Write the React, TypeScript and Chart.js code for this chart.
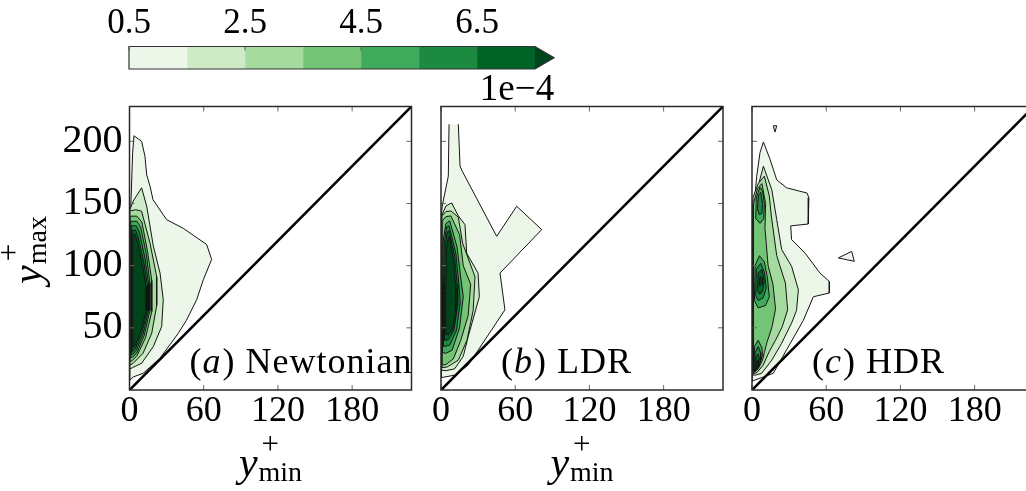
import { useEffect, useRef } from 'react';
import { Chart, registerables } from 'chart.js';

Chart.register(...registerables);

type Pt = [number, number];
interface Ring {
  level: number;
  pts: Pt[];
  open?: boolean;
}

// contour levels (x1e-4) and the Greens band colours; the last colour is the >7.5 extension
const LEVELS = [0.5, 1.5, 2.5, 3.5, 4.5, 5.5, 6.5, 7.5];
const BAND_COLORS = ['#edf7e9', '#cdebc7', '#a6dba0', '#74c476', '#3fa95c', '#1d8a42', '#006428', '#00441b'];
const CBAR_TICKS = [0.5, 2.5, 4.5, 6.5];
const CBAR_EXTEND = 0.33;
const X_TICKS = [0, 60, 120, 180];
const Y_TICKS = [50, 100, 150, 200];
const AXIS_MAX = 228;
const DIAGONAL: Pt[] = [[0, 0], [AXIS_MAX, AXIS_MAX]];

// joint PDF contours, (y+_min, y+_max) outlines per level
const NEWTONIAN: Ring[] = [
  { level: 0.5, pts: [[0.3, 8], [0.3, 130], [1.5, 160], [2.5, 190], [3.6, 204.5], [9.8, 200], [12.5, 188], [13.9, 173], [16.6, 164], [19, 153], [30, 137], [43.5, 130], [62.4, 117], [66.4, 105], [59.7, 88.7], [54.3, 72.6], [46, 56], [39.5, 45.7], [24.7, 25.6], [11, 13.4], [3, 10.5]] },
  { level: 1.5, pts: [[0.3, 17], [0.3, 145], [3, 152], [9.8, 162.6], [13.9, 147.8], [19.3, 115.6], [24.7, 94], [27.3, 72.6], [26, 51], [19.3, 35], [9.8, 21.5], [2.5, 18]] },
  { level: 2.5, pts: [[0.3, 20], [0.3, 144], [5, 145], [9.8, 143.8], [16.6, 118], [22, 91], [22, 68], [18, 45.7], [11, 29.6], [3, 21.5]] },
  { level: 3.5, pts: [[0.5, 23], [0.5, 139.8], [6, 139.8], [10, 135], [14.5, 112], [18, 88], [18, 63], [13, 42], [6, 27.5], [2, 23.5]] },
  { level: 4.5, pts: [[1, 26], [1, 135.7], [6, 135.7], [9, 131], [13.5, 110], [16.5, 86], [16.5, 64], [12, 44], [6, 30], [2.5, 26.5]] },
  { level: 5.5, pts: [[1.5, 28.5], [1.5, 132], [5.5, 132], [8, 127], [12.5, 106], [15.5, 85], [15.5, 64], [11, 45], [5.5, 32], [3, 29]] },
  { level: 6.5, pts: [[2, 31], [2, 128.5], [5, 128.5], [7, 123], [11.5, 103], [14.5, 84], [14.5, 64], [10, 46], [5, 34], [3, 31.5]] },
  { level: 7.5, pts: [[2.5, 34], [2.5, 125], [4.5, 125], [6.5, 119], [10.5, 100], [13.5, 83], [13.5, 64], [9, 47], [4.5, 36]] },
];

const LDR: Ring[] = [
  { level: 0.5, open: true, pts: [[6.5, 213.7], [5.9, 172], [1, 148], [0.3, 140], [0.3, 10], [3.2, 10.5], [11.3, 12], [22, 20], [51.7, 64.5], [47.7, 94], [81.4, 129], [61.2, 147.8], [45, 123.6], [17.2, 176], [15.4, 180], [14, 213.7]] },
  { level: 1.5, pts: [[0.5, 16], [0.5, 140], [4, 148], [8.6, 150.5], [14, 140], [19.4, 133], [20.8, 110], [30, 94], [31, 75], [22, 43], [18, 27], [11, 17], [4, 15.5]] },
  { level: 2.5, pts: [[0.8, 18], [0.8, 140], [4, 143.5], [8, 144], [14, 139], [17.5, 118], [27.5, 91], [26, 64], [21, 40], [14, 24], [5, 18.5]] },
  { level: 3.5, pts: [[1, 20], [1, 136], [4, 139.5], [8, 140], [15, 125], [18, 100], [24, 85], [22, 60], [16, 40], [10, 25], [4, 20.5]] },
  { level: 4.5, pts: [[1.5, 30], [1.2, 80], [1.8, 120], [4, 134], [7, 136], [13, 115], [16, 90], [18, 75], [15, 50], [9, 32], [4, 29.5]] },
  { level: 5.5, pts: [[2.2, 35], [2, 80], [2.6, 118], [4.5, 131], [6.5, 132], [12, 110], [14.5, 85], [15.5, 70], [12.5, 48], [7, 36]] },
  { level: 6.5, pts: [[3, 40], [2.8, 80], [3.4, 115], [5, 127], [6.5, 128], [11, 108], [13, 85], [13.5, 68], [10.5, 48], [6, 40.5]] },
  { level: 7.5, pts: [[4, 45], [3.8, 80], [4.4, 112], [6, 123], [7, 123], [10, 105], [12, 82], [12, 62], [9, 48], [6, 44.5]] },
];

const HDR: Ring[] = [
  { level: 0.5, pts: [[0.3, 7], [0.3, 140], [1.5, 146], [3.8, 172], [6.5, 191], [9.2, 199.5], [14.6, 185.5], [20, 169], [28, 162.6], [44.5, 158.4], [46, 154.6], [45.5, 133.5], [31.3, 132], [32, 121], [43, 110], [55, 94], [62.5, 87.3], [62.5, 78], [49.6, 75], [41.5, 56], [17.2, 13.4], [2.4, 8]] },
  { level: 0.5, pts: [[17.2, 212.5], [18.6, 207.5], [20, 212.5]] },
  { level: 0.5, pts: [[69.8, 106.2], [80.6, 111.5], [82.7, 103.5]] },
  { level: 1.5, pts: [[0.5, 12], [0.5, 150], [5, 164], [9.2, 180], [16, 161], [20, 137], [24, 113], [32, 99.5], [37.5, 80.6], [36, 64], [32, 53.8], [24, 37.6], [16, 24], [7.8, 13.4], [3, 12]] },
  { level: 2.5, pts: [[0.8, 13], [0.8, 155], [5, 166], [10, 172], [14, 156], [15.6, 140], [20, 108], [27, 86], [28.8, 64.5], [24.5, 51], [19, 40], [14, 31], [9, 20], [4, 14]] },
  { level: 3.5, pts: [[1.2, 15], [1.2, 150], [4.5, 162], [8, 166], [11, 150], [10.5, 130], [13, 100], [17, 85], [19, 65], [16, 50], [12, 38], [10, 30], [8.5, 24], [5, 17], [2.5, 15]] },
  { level: 4.5, pts: [[3, 138], [3.5, 155], [6.5, 163], [8.5, 160], [10, 150], [9.5, 138], [6.5, 134]] },
  { level: 4.5, pts: [[2, 72], [2.5, 100], [6, 108], [10, 103], [12.5, 90], [14, 75], [11, 68], [5, 66]] },
  { level: 4.5, pts: [[1.5, 14], [2, 35], [5, 40], [8, 34], [8.5, 28], [6, 20], [3, 15]] },
  { level: 5.5, pts: [[4.5, 145], [5, 156], [7, 159], [8.5, 150], [8, 142], [6, 141]] },
  { level: 5.5, pts: [[3, 76], [3.5, 97], [7, 102], [10, 95], [11.5, 82], [9, 74], [5, 72]] },
  { level: 5.5, pts: [[2, 15], [2.5, 30], [5, 35], [7, 30], [7, 24], [5, 18], [3, 16]] },
  { level: 6.5, pts: [[4.5, 80], [5, 94], [8, 97], [10, 88], [8.5, 79], [6, 77]] },
  { level: 6.5, pts: [[2.5, 16], [3, 26], [5, 29], [6, 25], [5, 19], [3.5, 16.5]] },
  { level: 7.5, pts: [[6, 84], [6.5, 91], [8.5, 90], [8.5, 85]] },
  { level: 7.5, pts: [[3, 17], [3.5, 23], [5, 24], [5, 19.5], [4, 17.5]] },
];

const SERIF = '"Liberation Serif", "DejaVu Serif", serif';
const CANVAS_W = 1040;
const CANVAS_H = 491;
const PLOT_TOP = 106.5;
const PLOT_BOTTOM = 390;
const PLOT_W = 282;
const Y_AXIS_W = 80;
const X_AXIS_H = 60;
const MATH_MAIN = 42;
const MATH_SCRIPT = 28;
const MATH_SUP = 31;

interface PanelOpts {
  left: number;
  showY: boolean;
  label: [string, string, string];
  xTitle: boolean;
  yTitle: boolean;
}

function drawMath(ctx: CanvasRenderingContext2D, x: number, y: number, main: string, sup: string, sub: string) {
  ctx.font = `italic ${MATH_MAIN}px ${SERIF}`;
  const wm = ctx.measureText(main).width;
  ctx.font = `${MATH_SCRIPT}px ${SERIF}`;
  const ws = ctx.measureText(sub).width;
  const x0 = x - (wm + 1 + ws) / 2;
  ctx.textAlign = 'left';
  ctx.textBaseline = 'alphabetic';
  ctx.font = `italic ${MATH_MAIN}px ${SERIF}`;
  ctx.fillText(main, x0, y);
  ctx.font = `${MATH_SCRIPT}px ${SERIF}`;
  ctx.fillText(sub, x0 + wm + 1, y + 5);
  ctx.font = `${MATH_SUP}px ${SERIF}`;
  ctx.fillText(sup, x0 + wm + 4, y - 22);
}

function panelDecor(o: PanelOpts) {
  return {
    id: 'panelDecor',
    afterDraw(chart: any) {
      const { ctx, chartArea: a, scales } = chart;
      const sx = scales.x;
      const sy = scales.y;
      ctx.save();
      // inward tick marks on all four sides
      ctx.strokeStyle = '#666';
      ctx.lineWidth = 1;
      ctx.beginPath();
      for (const v of X_TICKS) {
        const px = sx.getPixelForValue(v);
        ctx.moveTo(px, a.bottom);
        ctx.lineTo(px, a.bottom - 5);
        ctx.moveTo(px, a.top);
        ctx.lineTo(px, a.top + 5);
      }
      for (const v of Y_TICKS) {
        const py = sy.getPixelForValue(v);
        ctx.moveTo(a.left, py);
        ctx.lineTo(a.left + 5, py);
        ctx.moveTo(a.right, py);
        ctx.lineTo(a.right - 5, py);
      }
      ctx.stroke();
      // frame
      ctx.strokeStyle = '#2a2a2a';
      ctx.lineWidth = 1.5;
      ctx.strokeRect(a.left, a.top, a.right - a.left, a.bottom - a.top);
      // panel label
      ctx.fillStyle = '#000';
      ctx.textAlign = 'left';
      ctx.textBaseline = 'alphabetic';
      (ctx as any).letterSpacing = '1px';
      let x = a.left + 60;
      const y = 373;
      o.label.forEach((t, i) => {
        ctx.font = `${i === 1 ? 'italic ' : ''}36px ${SERIF}`;
        ctx.fillText(t, x, y);
        x += ctx.measureText(t).width + (i === 1 ? 1 : 0);
      });
      (ctx as any).letterSpacing = '0px';
      if (o.xTitle) drawMath(ctx, (a.left + a.right) / 2, 476, 'y', '+', 'min');
      if (o.yTitle) {
        ctx.save();
        ctx.translate(41, 250);
        ctx.rotate(-Math.PI / 2);
        drawMath(ctx, 0, 0, 'y', '+', 'max');
        ctx.restore();
      }
      ctx.restore();
    },
  };
}

function panelConfig(rings: Ring[], o: PanelOpts): any {
  const datasets: any[] = rings.map((r) => {
    const li = LEVELS.indexOf(r.level);
    const pts = r.open ? r.pts : [...r.pts, r.pts[0]];
    return {
      data: pts.map(([x, y]) => ({ x, y })),
      backgroundColor: BAND_COLORS[li],
      borderColor: '#141414',
      borderWidth: 1,
      borderJoinStyle: 'round',
      fill: 'shape',
      pointRadius: 0,
      tension: 0,
      order: 20 - li,
    };
  });
  datasets.push({
    data: DIAGONAL.map(([x, y]) => ({ x, y })),
    borderColor: '#000',
    borderWidth: 2.6,
    fill: false,
    pointRadius: 0,
    order: 0,
  });
  const tickFont = (size: number) => ({ family: SERIF, size });
  return {
    type: 'line',
    data: { datasets },
    options: {
      animation: false,
      responsive: false,
      events: [],
      layout: {
        padding: {
          left: o.left - Y_AXIS_W,
          right: CANVAS_W - (o.left + PLOT_W),
          top: PLOT_TOP,
          bottom: CANVAS_H - PLOT_BOTTOM - X_AXIS_H,
        },
      },
      scales: {
        x: {
          type: 'linear',
          min: 0,
          max: AXIS_MAX,
          afterBuildTicks: (s: any) => {
            s.ticks = X_TICKS.map((value) => ({ value }));
          },
          afterFit: (s: any) => {
            s.height = X_AXIS_H;
          },
          grid: { display: false, drawTicks: false },
          border: { display: false },
          ticks: {
            font: tickFont(36),
            color: '#000',
            padding: 0,
            maxRotation: 0,
            autoSkip: false,
            callback: (v: any) => String(v),
          },
        },
        y: {
          type: 'linear',
          min: 0,
          max: AXIS_MAX,
          afterBuildTicks: (s: any) => {
            s.ticks = Y_TICKS.map((value) => ({ value }));
          },
          afterFit: (s: any) => {
            s.width = Y_AXIS_W;
          },
          grid: { display: false, drawTicks: false },
          border: { display: false },
          ticks: {
            display: o.showY,
            font: tickFont(40),
            color: '#000',
            padding: 7,
            autoSkip: false,
            callback: (v: any) => String(v),
          },
        },
      },
      plugins: { legend: { display: false }, tooltip: { enabled: false } },
    },
    plugins: [panelDecor(o)],
  };
}

const colorbarDecor = {
  id: 'colorbarDecor',
  afterDraw(chart: any) {
    const { ctx, chartArea: a, scales } = chart;
    const sx = scales.x;
    const top = LEVELS[LEVELS.length - 1];
    const xe = sx.getPixelForValue(top);
    const tip = sx.getPixelForValue(top + CBAR_EXTEND);
    const mid = (a.top + a.bottom) / 2;
    ctx.save();
    ctx.fillStyle = BAND_COLORS[BAND_COLORS.length - 1];
    ctx.beginPath();
    ctx.moveTo(xe, a.top);
    ctx.lineTo(tip, mid);
    ctx.lineTo(xe, a.bottom);
    ctx.closePath();
    ctx.fill();
    ctx.strokeStyle = '#333';
    ctx.lineWidth = 1.2;
    ctx.beginPath();
    ctx.moveTo(a.left, a.top);
    ctx.lineTo(xe, a.top);
    ctx.lineTo(tip, mid);
    ctx.lineTo(xe, a.bottom);
    ctx.lineTo(a.left, a.bottom);
    ctx.closePath();
    ctx.stroke();
    ctx.strokeStyle = '#555';
    ctx.lineWidth = 1;
    ctx.beginPath();
    for (const v of CBAR_TICKS) {
      const px = sx.getPixelForValue(v);
      ctx.moveTo(px, a.top);
      ctx.lineTo(px, a.top + 4);
    }
    ctx.stroke();
    ctx.fillStyle = '#000';
    ctx.font = `37px ${SERIF}`;
    ctx.textAlign = 'right';
    ctx.textBaseline = 'alphabetic';
    ctx.fillText('1e\u22124', tip, 100);
    ctx.restore();
  },
};

function colorbarConfig(): any {
  const datasets = BAND_COLORS.slice(0, LEVELS.length - 1).map((c, i) => ({
    data: [[LEVELS[i], LEVELS[i + 1]]],
    backgroundColor: c,
    borderWidth: 0,
    barPercentage: 1,
    categoryPercentage: 1,
    grouped: false,
  }));
  return {
    type: 'bar',
    data: { labels: [''], datasets },
    options: {
      indexAxis: 'y',
      animation: false,
      responsive: false,
      events: [],
      layout: { padding: { left: 129, right: 1026 - 535, top: 6.5, bottom: 110 - 69 } },
      scales: {
        x: {
          type: 'linear',
          position: 'top',
          min: LEVELS[0],
          max: LEVELS[LEVELS.length - 1],
          afterBuildTicks: (s: any) => {
            s.ticks = CBAR_TICKS.map((value) => ({ value }));
          },
          afterFit: (s: any) => {
            s.height = 40;
          },
          grid: { display: false, drawTicks: false },
          border: { display: false },
          ticks: {
            font: { family: SERIF, size: 35 },
            color: '#000',
            padding: 2,
            maxRotation: 0,
            autoSkip: false,
            callback: (v: any) => Number(v).toFixed(1),
          },
        },
        y: { display: false },
      },
      plugins: { legend: { display: false }, tooltip: { enabled: false } },
    },
    plugins: [colorbarDecor],
  };
}

export default function App() {
  const cbarRef = useRef<HTMLCanvasElement>(null);
  const aRef = useRef<HTMLCanvasElement>(null);
  const bRef = useRef<HTMLCanvasElement>(null);
  const cRef = useRef<HTMLCanvasElement>(null);

  useEffect(() => {
    const charts = [
      new Chart(cbarRef.current!, colorbarConfig()),
      new Chart(aRef.current!, panelConfig(NEWTONIAN, { left: 129.5, showY: true, label: ['(', 'a', ') Newtonian'], xTitle: true, yTitle: true })),
      new Chart(bRef.current!, panelConfig(LDR, { left: 441, showY: false, label: ['(', 'b', ') LDR'], xTitle: true, yTitle: false })),
      new Chart(cRef.current!, panelConfig(HDR, { left: 752, showY: false, label: ['(', 'c', ') HDR'], xTitle: false, yTitle: false })),
    ];
    return () => charts.forEach((c) => c.destroy());
  }, []);

  const abs = { position: 'absolute' as const, left: 0, top: 0 };
  return (
    <div style={{ position: 'fixed', left: 0, top: 0, width: 1026, height: 491, overflow: 'hidden', background: '#fff' }}>
      <canvas ref={cbarRef} width={1026} height={110} style={abs} />
      <canvas ref={aRef} width={CANVAS_W} height={CANVAS_H} style={abs} />
      <canvas ref={bRef} width={CANVAS_W} height={CANVAS_H} style={abs} />
      <canvas ref={cRef} width={CANVAS_W} height={CANVAS_H} style={abs} />
    </div>
  );
}
